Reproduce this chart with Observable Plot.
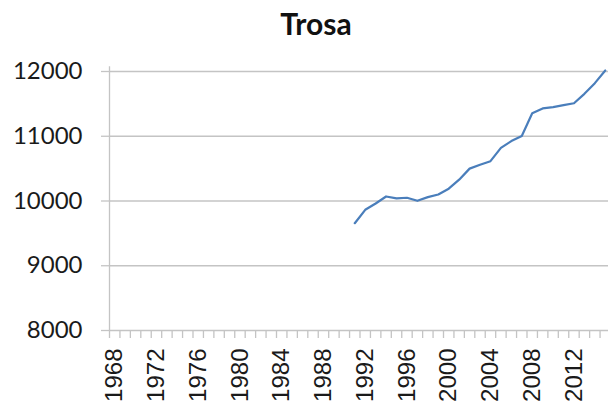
<!DOCTYPE html>
<html><head><meta charset="utf-8">
<script src="https://cdn.jsdelivr.net/npm/d3@7"></script>
<script src="https://cdn.jsdelivr.net/npm/@observablehq/plot@0.6"></script>
<style>
body{margin:0;background:#fff;}
#title{width:608px;box-sizing:border-box;padding-left:24px;padding-top:8px;height:52px;text-align:center;font-family:Lato,"Open Sans",sans-serif;font-weight:bold;font-size:30px;line-height:30px;color:#111;}
</style>
</head><body>
<div id="title">Trosa</div>
<div id="chart"></div>
<script>
const years = [1991,1992,1993,1994,1995,1996,1997,1998,1999,2000,2001,2002,2003,2004,2005,2006,2007,2008,2009,2010,2011,2012,2013,2014,2015];
const population = [9657,9864,9961,10070,10040,10050,10003,10060,10100,10190,10330,10500,10560,10615,10820,10925,11005,11355,11430,11450,11480,11510,11655,11820,12015];
const yTicks = [8000,9000,10000,11000,12000];
const xLabelYears = [1968,1972,1976,1980,1984,1988,1992,1996,2000,2004,2008,2012];
const firstYear = 1968, lastYear = 2015;
const boundaries = d3.range(firstYear - 0.5, lastYear + 1, 1);

const gridColor = "#c4c4c4";
const chart = Plot.plot({
  width: 608,
  height: 351,
  marginLeft: 109,
  marginRight: 0,
  marginTop: 19,
  marginBottom: 73,
  style: {fontFamily: "Lato, sans-serif", background: "#fff", color: "#1a1a1a"},
  x: {type: "linear", domain: [firstYear - 0.5, lastYear + 0.5], range: [109, 610]},
  y: {domain: [8000, 12000]},
  marks: [
    Plot.gridY(yTicks, {stroke: gridColor, strokeOpacity: 1, strokeWidth: 1.3}),
    Plot.axisY({ticks: yTicks, tickSize: 8, tickPadding: 19, stroke: gridColor, strokeWidth: 1.3, fontSize: 24, fontFamily: "Lato, sans-serif", fill: "#1a1a1a", tickFormat: d => String(d), label: null}),
    Plot.ruleX([firstYear - 0.5], {y1: 8000, y2: 12075, stroke: gridColor, strokeWidth: 1.3}),
    Plot.axisX({ticks: boundaries, tickSize: 8, stroke: gridColor, strokeWidth: 1.3, tickFormat: () => "", label: null}),
    Plot.axisX({ticks: xLabelYears, tickSize: 0, tickPadding: 18, tickRotate: -90, fontSize: 24, fontFamily: "Liberation Sans, Arial, sans-serif", fill: "#1a1a1a", tickFormat: d => String(d), label: null}),
    Plot.line(years, {x: years, y: population, stroke: "#4a7ebb", strokeWidth: 2.2})
  ]
});
document.getElementById("chart").appendChild(chart);
</script>
</body></html>
